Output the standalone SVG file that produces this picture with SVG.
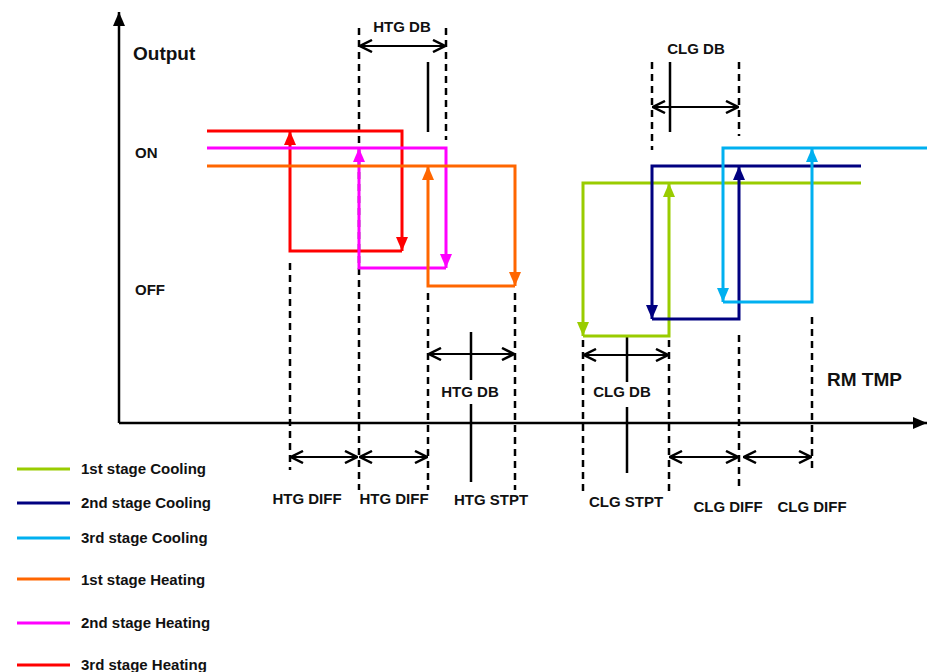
<svg xmlns="http://www.w3.org/2000/svg" width="927" height="672" viewBox="0 0 927 672">
<style>
text{font-family:"Liberation Sans",Arial,sans-serif;font-weight:bold;font-size:15px;fill:#111}
.big{font-size:19px}
.c{text-anchor:middle}
.dash{stroke:#000;stroke-width:2.5;stroke-dasharray:7 5;fill:none}
.solid{stroke:#000;stroke-width:2.5;fill:none}
.dbl{stroke:#000;stroke-width:2;fill:none;marker-start:url(#open);marker-end:url(#open)}
.ln{fill:none;stroke-width:3}
</style>
<defs>
<marker id="open" markerUnits="userSpaceOnUse" viewBox="0 0 14 14" refX="13" refY="7" markerWidth="14" markerHeight="14" orient="auto-start-reverse"><path d="M1,1 L13,7 L1,13" fill="none" stroke="#000" stroke-width="2.5"/></marker>
<marker id="ax" markerUnits="userSpaceOnUse" viewBox="0 0 14 12" refX="14" refY="6" markerWidth="14" markerHeight="12" orient="auto"><path d="M0,0 L14,6 L0,12Z" fill="#000"/></marker>
<marker id="mRed" markerUnits="userSpaceOnUse" viewBox="0 0 14 12" refX="14" refY="6" markerWidth="14" markerHeight="12" orient="auto"><path d="M0,0 L14,6 L0,12Z" fill="#ff0000"/></marker>
<marker id="mMag" markerUnits="userSpaceOnUse" viewBox="0 0 14 12" refX="14" refY="6" markerWidth="14" markerHeight="12" orient="auto"><path d="M0,0 L14,6 L0,12Z" fill="#ff00ff"/></marker>
<marker id="mOra" markerUnits="userSpaceOnUse" viewBox="0 0 14 12" refX="14" refY="6" markerWidth="14" markerHeight="12" orient="auto"><path d="M0,0 L14,6 L0,12Z" fill="#ff6600"/></marker>
<marker id="mGrn" markerUnits="userSpaceOnUse" viewBox="0 0 14 12" refX="14" refY="6" markerWidth="14" markerHeight="12" orient="auto"><path d="M0,0 L14,6 L0,12Z" fill="#99cc00"/></marker>
<marker id="mNav" markerUnits="userSpaceOnUse" viewBox="0 0 14 12" refX="14" refY="6" markerWidth="14" markerHeight="12" orient="auto"><path d="M0,0 L14,6 L0,12Z" fill="#000080"/></marker>
<marker id="mCya" markerUnits="userSpaceOnUse" viewBox="0 0 14 12" refX="14" refY="6" markerWidth="14" markerHeight="12" orient="auto"><path d="M0,0 L14,6 L0,12Z" fill="#00b0f0"/></marker>
</defs>
<rect width="927" height="672" fill="#fff"/>

<g id="axes">
<path d="M119,423 V12" class="solid" marker-end="url(#ax)"/>
<path d="M119,423 H927" class="solid" marker-end="url(#ax)"/>
<text x="133" y="60" class="big">Output</text>
<text x="827" y="386" class="big">RM TMP</text>
<text x="135" y="158">ON</text>
<text x="135" y="295">OFF</text>
</g>

<g id="guides">
<path class="dash" d="M290,263V470 M359,28V490 M446,28V140 M428,293V490 M515,293V490 M583,340V492 M669,340V492 M652,62V150 M739,62V136 M739,335V488 M812,317V470"/>
<path class="solid" d="M428,62V132 M471,332V380 M471,404V482 M670,62V132 M627,337V382 M627,407V473"/>
</g>

<g id="connectors">
<path class="ln" stroke="#ff0000" d="M207,131H402V251" marker-end="url(#mRed)"/>
<path class="ln" stroke="#ff0000" d="M402,251H290V131" marker-end="url(#mRed)"/>
<path class="ln" stroke="#ff00ff" d="M207,148H446V268" marker-end="url(#mMag)"/>
<path class="ln" stroke="#ff00ff" d="M446,268H359V148" marker-end="url(#mMag)"/>
<path class="ln" stroke="#ff6600" d="M207,166H515V286" marker-end="url(#mOra)"/>
<path class="ln" stroke="#ff6600" d="M515,286H428V166" marker-end="url(#mOra)"/>
<path class="ln" stroke="#99cc00" d="M861,183H583V336" marker-end="url(#mGrn)"/>
<path class="ln" stroke="#99cc00" d="M583,336H669V183" marker-end="url(#mGrn)"/>
<path class="ln" stroke="#000080" d="M861,166H652V319" marker-end="url(#mNav)"/>
<path class="ln" stroke="#000080" d="M652,319H739V166" marker-end="url(#mNav)"/>
<path class="ln" stroke="#00b0f0" d="M927,148H723V302" marker-end="url(#mCya)"/>
<path class="ln" stroke="#00b0f0" d="M723,302H812V148" marker-end="url(#mCya)"/>
</g>

<g id="dimensions">
<path class="dbl" d="M360,46H445"/>
<path class="dbl" d="M653,107H738"/>
<path class="dbl" d="M429,354H514"/>
<path class="dbl" d="M584,355H668"/>
<path class="dbl" d="M291,457H357"/>
<path class="dbl" d="M360,457H427"/>
<path class="dbl" d="M670,457H738"/>
<path class="dbl" d="M744,457H811"/>
<text x="402" y="32" class="c">HTG DB</text>
<text x="696" y="54" class="c">CLG DB</text>
<text x="470" y="397" class="c">HTG DB</text>
<text x="622" y="397" class="c">CLG DB</text>
<text x="307" y="504" class="c">HTG DIFF</text>
<text x="394" y="504" class="c">HTG DIFF</text>
<text x="491" y="505" class="c">HTG STPT</text>
<text x="626" y="507" class="c">CLG STPT</text>
<text x="728" y="512" class="c">CLG DIFF</text>
<text x="812" y="512" class="c">CLG DIFF</text>
</g>

<g id="legend">
<path d="M17,469H70" class="ln" stroke="#99cc00"/>
<path d="M17,503H70" class="ln" stroke="#000080"/>
<path d="M17,538H70" class="ln" stroke="#00b0f0"/>
<path d="M17,579H70" class="ln" stroke="#ff6600"/>
<path d="M17,623H70" class="ln" stroke="#ff00ff"/>
<path d="M17,665H70" class="ln" stroke="#ff0000"/>
<text x="81" y="474">1st stage Cooling</text>
<text x="81" y="508">2nd stage Cooling</text>
<text x="81" y="543">3rd stage Cooling</text>
<text x="81" y="585">1st stage Heating</text>
<text x="81" y="628">2nd stage Heating</text>
<text x="81" y="670">3rd stage Heating</text>
</g>
</svg>
